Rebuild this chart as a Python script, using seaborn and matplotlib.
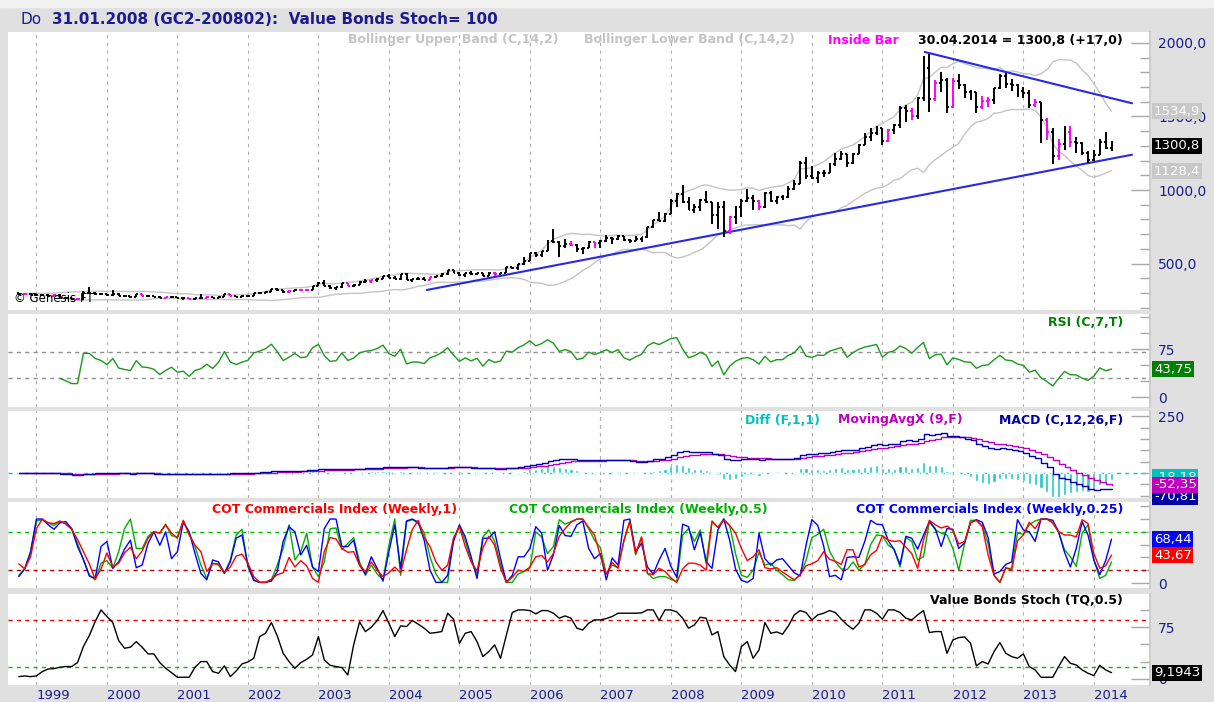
import numpy as np
import pandas as pd
import matplotlib
matplotlib.use('Agg')
import matplotlib.pyplot as plt
from matplotlib.patches import Rectangle
from matplotlib.ticker import MultipleLocator
import seaborn as sns

# monthly bars, Oct 1998 .. Apr 2014
dates = pd.date_range('1998-10-01', '2014-04-01', freq='MS')
t = np.asarray(dates.year + (dates.month - 1) / 12.0)
years = list(range(1999, 2015))

close = [293, 295, 289,
         288, 288, 280, 287, 268, 263, 256, 256, 300, 300, 293, 290,
         284, 295, 279, 276, 274, 290, 279, 278, 275, 265, 270, 274,
         266, 267, 258, 264, 266, 271, 266, 273, 293, 279, 275, 279,
         282, 297, 302, 309, 327, 318, 305, 313, 323, 317, 319, 348,
         368, 348, 335, 337, 364, 347, 355, 376, 384, 387, 397, 416,
         401, 396, 427, 388, 395, 395, 391, 409, 416, 429, 453, 438,
         423, 435, 428, 436, 417, 437, 430, 434, 473, 471, 496, 518,
         570, 557, 584, 655, 644, 616, 634, 627, 599, 606, 646, 638,
         652, 672, 664, 684, 661, 653, 668, 680, 746, 794, 788, 838,
         928, 975, 920, 867, 887, 931, 915, 833, 884, 718, 815, 884,
         928, 943, 923, 883, 980, 927, 955, 955, 1008, 1041, 1182, 1097,
         1083, 1119, 1116, 1180, 1213, 1245, 1181, 1248, 1309, 1358, 1387, 1421,
         1333, 1410, 1439, 1556, 1536, 1501, 1628, 1828, 1620, 1725, 1746, 1566,
         1740, 1711, 1669, 1664, 1562, 1604, 1615, 1692, 1774, 1720, 1713, 1676,
         1662, 1579, 1597, 1476, 1393, 1234, 1313, 1396, 1327, 1323, 1253, 1202,
         1240, 1326, 1283.8, 1300.8]
high = [302, 299, 297,
        292, 291, 291, 290, 290, 270, 264, 260, 311, 340, 303, 295,
        294, 318, 297, 287, 279, 295, 291, 283, 280, 277, 272, 276,
        275, 270, 268, 266, 293, 276, 273, 279, 294, 294, 280, 283,
        287, 302, 304, 310, 328, 331, 323, 317, 326, 325, 323, 350,
        373, 390, 355, 341, 370, 368, 360, 378, 394, 391, 400, 417,
        428, 417, 430, 432, 396, 405, 411, 410, 418, 433, 455, 458,
        440, 437, 447, 438, 438, 443, 440, 444, 476, 479, 498, 542,
        574, 575, 586, 660, 732, 652, 670, 656, 636, 610, 651, 648,
        660, 694, 678, 696, 690, 668, 686, 682, 750, 795, 851, 842,
        936, 980, 1033, 950, 905, 942, 990, 920, 920, 925, 825, 890,
        936, 1007, 963, 931, 983, 991, 961, 967, 1025, 1071, 1196, 1227,
        1163, 1128, 1137, 1181, 1250, 1266, 1248, 1252, 1310, 1388, 1424, 1432,
        1424, 1412, 1447, 1570, 1577, 1556, 1632, 1911, 1923, 1749, 1803, 1764,
        1764, 1791, 1720, 1680, 1668, 1642, 1630, 1693, 1790, 1798, 1755, 1724,
        1698, 1679, 1617, 1600, 1488, 1424, 1348, 1434, 1434, 1362, 1325, 1267,
        1272, 1346, 1392, 1331]
low = [287, 290, 285,
       283, 282, 278, 279, 267, 258, 252, 252, 254, 291, 289, 283,
       282, 282, 277, 272, 268, 273, 276, 272, 269, 263, 263, 267,
       262, 255, 257, 254, 263, 265, 262, 265, 270, 277, 271, 272,
       278, 281, 290, 299, 307, 314, 302, 302, 311, 313, 314, 318,
       344, 344, 329, 323, 335, 344, 342, 352, 368, 369, 377, 395,
       398, 392, 390, 386, 373, 386, 387, 388, 398, 410, 422, 432,
       416, 411, 424, 421, 414, 414, 418, 426, 433, 460, 457, 491,
       516, 541, 543, 582, 642, 542, 605, 616, 578, 562, 604, 608,
       606, 648, 636, 660, 656, 640, 650, 649, 675, 739, 786, 779,
       836, 882, 912, 862, 846, 859, 909, 772, 735, 681, 700, 768,
       813, 915, 866, 866, 880, 920, 905, 933, 945, 1002, 1040, 1077,
       1075, 1045, 1089, 1114, 1164, 1204, 1155, 1175, 1244, 1305, 1333, 1375,
       1309, 1328, 1382, 1420, 1463, 1478, 1482, 1606, 1532, 1603, 1668, 1523,
       1555, 1688, 1628, 1611, 1527, 1548, 1564, 1587, 1689, 1695, 1673, 1636,
       1626, 1555, 1564, 1321, 1338, 1180, 1207, 1271, 1292, 1251, 1241, 1182,
       1200, 1238, 1277, 1268]
first_open = 297

# hand drawn trend lines (decimal year, price)
lower_line_t = [2004.54, 2014.54]
lower_line_v = [320, 1240]
upper_line_t = [2011.60, 2014.54]
upper_line_v = [1939, 1590]

cot_red = [30, 22, 41, 85, 100, 94, 93, 97, 92, 84,
           68, 49, 30, 6, 22, 47, 25, 31, 47, 56,
           38, 50, 70, 80, 78, 91, 78, 70, 98, 75,
           59, 49, 18, 30, 30, 17, 25, 42, 45, 31,
           10, 1, 1, 6, 13, 16, 40, 25, 35, 27,
           7, 1, 49, 71, 69, 54, 48, 49, 28, 18,
           33, 20, 10, 16, 25, 16, 52, 84, 98, 71,
           57, 33, 20, 28, 70, 88, 57, 33, 19, 55,
           73, 59, 23, 1, 9, 20, 18, 25, 41, 43,
           33, 46, 73, 85, 95, 100, 100, 87, 75,
           42, 14, 32, 23, 67, 96, 46, 72, 15, 13,
           23, 18, 8, 1, 22, 31, 31, 28, 20, 96,
           87, 98, 90, 78, 54, 35, 41, 52, 24, 22,
           24, 17, 11, 5, 13, 27, 30, 35, 49, 37,
           34, 29, 52, 52, 25, 29, 44, 51, 74, 67,
           65, 66, 56, 46, 23, 67, 98, 91, 86, 89,
           82, 61, 65, 94, 98, 88, 44, 12, 1, 24,
           20, 66, 75, 95, 85, 100, 100, 94, 80, 75,
           75, 72, 99, 93, 46, 23, 27, 43.67]
cot_green = [12, 22, 49, 97, 99, 94, 90, 96, 93, 85,
             62, 36, 13, 5, 31, 35, 23, 49, 85, 100,
             54, 54, 73, 80, 78, 92, 74, 72, 97, 78,
             57, 28, 7, 31, 28, 15, 36, 75, 84, 25,
             5, 1, 1, 5, 28, 54, 91, 36, 49, 78,
             25, 10, 33, 85, 86, 52, 62, 71, 33, 12,
             28, 14, 5, 59, 100, 12, 96, 99, 93, 79,
             41, 14, 1, 1, 70, 89, 66, 34, 14, 72,
             83, 65, 29, 1, 1, 14, 18, 23, 80, 72,
             46, 57, 99, 92, 96, 100, 100, 85, 67,
             55, 14, 28, 24, 65, 97, 44, 71, 15, 7,
             10, 10, 6, 2, 75, 85, 65, 83, 31, 97,
             87, 100, 90, 46, 12, 9, 20, 48, 28, 31,
             20, 13, 5, 4, 13, 35, 71, 76, 84, 50,
             33, 22, 21, 33, 20, 29, 60, 75, 74, 59,
             53, 25, 71, 65, 36, 41, 96, 83, 78, 75,
             54, 20, 62, 98, 98, 90, 61, 12, 1, 23,
             23, 78, 76, 91, 97, 100, 100, 94, 79, 52,
             41, 26, 78, 91, 36, 7, 12, 33]
cot_blue = [10, 22, 48, 100, 100, 91, 84, 94, 96, 85,
            57, 37, 11, 7, 57, 65, 23, 33, 53, 67,
            24, 28, 62, 80, 59, 80, 38, 49, 95, 80,
            46, 15, 5, 36, 33, 15, 33, 70, 75, 28,
            4, 1, 1, 3, 18, 65, 88, 80, 44, 59,
            25, 18, 85, 100, 100, 57, 57, 67, 28, 14,
            41, 23, 3, 49, 91, 23, 97, 100, 95, 67,
            20, 1, 1, 12, 65, 91, 72, 41, 7, 70,
            70, 80, 38, 1, 12, 41, 41, 54, 88, 78,
            20, 44, 90, 74, 73, 91, 97, 54, 38,
            46, 5, 39, 28, 98, 100, 49, 62, 25, 14,
            36, 54, 26, 9, 92, 88, 52, 79, 33, 23,
            83, 100, 67, 22, 4, 1, 7, 78, 38, 28,
            36, 38, 27, 16, 11, 59, 99, 90, 58, 10,
            12, 5, 40, 41, 40, 65, 98, 92, 91, 66,
            52, 29, 73, 70, 53, 75, 96, 85, 57, 85,
            84, 54, 63, 94, 99, 95, 71, 14, 18, 29,
            33, 99, 83, 80, 65, 100, 100, 98, 80, 48,
            25, 54, 96, 75, 36, 13, 35, 68.44]
stoch = [3.4, 4.4, 3.4, 4.4, 10.7, 14.5, 15, 17, 18, 18,
         23.7, 47, 62.8, 83, 100, 90.4, 81.7, 55.6, 44.5, 46,
         54, 46, 36.3, 36.3, 23.7, 15.5, 9.2, 2.5, 2.5, 2.5,
         17, 25.2, 25.2, 10.7, 8.3, 19, 3.4, 11.6, 21.8, 24.7,
         30, 61.4, 66.2, 81.7, 62.3, 37.2, 25.2, 15.5, 23.7, 28.5,
         34.8, 61.4, 27.6, 19.8, 18, 16.5, 5.8, 49.3, 82.6, 68.6,
         74.9, 84.6, 99, 80.7, 61.4, 76.8, 75.9, 84.6, 79.3, 73.5,
         66.2, 67.2, 68.6, 95.2, 86.5, 51.7, 66.2, 68.6, 54.1, 32.4,
         39.6, 49.3, 30, 63.8, 96.2, 100, 100, 99, 94.2, 99,
         99, 95.2, 88, 91.3, 88, 73.5, 71, 80.7, 85.5,
         85.5, 87.5, 90.4, 95.2, 95.2, 95.2, 95.2, 95.7, 100, 100,
         84.6, 100, 100, 97.1, 88, 73.5, 78.3, 89.4, 88, 63.8,
         68.6, 32.4, 20.3, 10.7, 46.9, 54.1, 30, 42.1, 81.7, 66.2,
         68.1, 64.8, 76.8, 92.8, 99, 96.2, 85.5, 92.8, 95.2, 99,
         96.2, 86.5, 78.3, 72, 80.7, 100, 100, 95.2, 86.5, 100,
         100, 96.2, 88, 85.5, 92.8, 99, 67.2, 68.6, 68.6, 37.2,
         56.5, 59.9, 60.9, 51.7, 18.9, 25.2, 21.8, 39.6, 52.7, 37.2,
         32.4, 30, 36.3, 18, 13.1, 2.5, 2.5, 2.5, 18, 32.4,
         22.7, 20.3, 13.1, 8.3, 4.9, 19.8, 13.1, 9.19]

# ---- indicators from the closes
c = pd.Series(close, dtype=float)
h = np.array(high, dtype=float)
l = np.array(low, dtype=float)
o = c.shift(1).fillna(first_open).values
mid = c.rolling(14, min_periods=1).mean()
sd = c.rolling(14, min_periods=1).std(ddof=0)
bb_up = (mid + 2 * sd).values
bb_lo = (mid - 2 * sd).values

delta = c.diff()
gain = delta.clip(lower=0).ewm(alpha=1 / 7, adjust=False, min_periods=7).mean()
loss = (-delta.clip(upper=0)).ewm(alpha=1 / 7, adjust=False, min_periods=7).mean()
rsi = (100 - 100 / (1 + gain / loss)).values

ema12 = c.ewm(span=12, adjust=False).mean()
ema26 = c.ewm(span=26, adjust=False).mean()
macd = (ema12 - ema26).values
signal = pd.Series(macd).ewm(span=9, adjust=False).mean().values
diff = macd - signal

inside = np.r_[False, (h[1:] <= h[:-1]) & (l[1:] >= l[:-1])]

# ---- figure
sns.set_theme(style='white')
plt.rcParams['font.family'] = ['DejaVu Sans']
W, H = 1214, 702
NAVY = '#1c1c8c'
fig = plt.figure(figsize=(W / 100, H / 100), dpi=100, facecolor='#e0e0e0')
fig.patches.append(Rectangle((0, 1 - 7 / H), 1, 7 / H, transform=fig.transFigure,
                             color='#f2f2f2', zorder=0))


def panel(top, bot, sharex=None):
    ax = fig.add_axes([8 / W, 1 - bot / H, 1142 / W, (bot - top) / H], sharex=sharex)
    ax.set_facecolor('white')
    for s in ax.spines.values():
        s.set_visible(False)
    return ax


ax1 = panel(32, 310)
ax2 = panel(314, 407, ax1)
ax3 = panel(411, 498, ax1)
ax4 = panel(502, 588, ax1)
ax5 = panel(594, 685, ax1)
# own scale for the Diff histogram, same zero line
ax3b = ax3.twinx()
for s in ax3b.spines.values():
    s.set_visible(False)
ax3b.set_yticks([])
ax3b.patch.set_visible(True)
ax3b.set_facecolor('white')
axes = [ax1, ax2, ax3, ax4, ax5]


def style_y(ax, major, labels, minor_step, lim):
    ax.set_ylim(*lim)
    ax.yaxis.tick_right()
    ax.set_yticks(major)
    ax.set_yticklabels(labels)
    ax.yaxis.set_minor_locator(MultipleLocator(minor_step))
    ax.tick_params(axis='y', which='major', direction='in', length=14, width=1,
                   color='#a8a8a8', labelcolor=NAVY, labelsize=10, pad=6)
    ax.tick_params(axis='y', which='minor', direction='in', length=7, width=1,
                   color='#a8a8a8')
    ax.spines['right'].set_visible(True)
    ax.spines['right'].set_color('#c8c8c8')


style_y(ax1, [500, 1000, 1500, 2000], ['500,0', '1000,0', '1500,0', '2000,0'], 100, (183.7, 2074.8))
style_y(ax2, [0, 75], ['0', '75'], 25, (-15.6, 129.7))
style_y(ax3, [250], ['250'], 50, (-110.6, 274.3))
style_y(ax4, [0], ['0'], 20, (-7.8, 126.6))
style_y(ax5, [0, 75], ['0', '75'], 25, (-8.7, 123))
ax3b.set_ylim(-110.6 / 1.7, 274.3 / 1.7)

ax1.set_xlim(1998.597, 2014.796)
for ax in axes:
    for y in years:
        ax.axvline(y, color='#b0b0b0', lw=0.8, ls=(0, (3, 4)), zorder=0)
    ax.tick_params(axis='x', length=0, labelbottom=False)
ax5.set_xticks(years)
ax5.set_xticklabels([str(y) for y in years], ha='left')
ax5.tick_params(axis='x', labelbottom=True, labelcolor=NAVY, labelsize=9.5, pad=3)

# ---- price panel
sns.lineplot(x=t, y=bb_up, ax=ax1, color='#c4c4c4', lw=1, legend=False)
sns.lineplot(x=t, y=bb_lo, ax=ax1, color='#c4c4c4', lw=1, legend=False)
cols = np.where(inside, '#ff00ff', 'black')
w = 0.028
ax1.vlines(t, l, h, colors=cols, lw=1.4, zorder=3)
ax1.hlines(o, t - w, t, colors=cols, lw=1.4, zorder=3)
ax1.hlines(close, t, t + w, colors=cols, lw=1.4, zorder=3)
sns.lineplot(x=lower_line_t, y=lower_line_v, ax=ax1, color='#2828e6', lw=1.5, legend=False)
sns.lineplot(x=upper_line_t, y=upper_line_v, ax=ax1, color='#2828e6', lw=1.5, legend=False)

# ---- RSI
ax2.axhline(70, color='#909090', lw=1, ls=(0, (3, 3)))
ax2.axhline(30, color='#909090', lw=1, ls=(0, (3, 3)))
sns.lineplot(x=t, y=rsi, ax=ax2, color='#1a9a1a', lw=1, legend=False)

# ---- MACD
ax3b.axhline(0, color='#00c8c8', lw=1, ls=(0, (3, 3)))
ax3b.bar(t, diff, width=0.045, color='#20c8c8', zorder=2)
for y in years:
    ax3b.axvline(y, color='#b0b0b0', lw=0.8, ls=(0, (3, 4)), zorder=0)
sns.lineplot(x=t, y=signal, ax=ax3, color='#c000c0', lw=1, legend=False, drawstyle='steps-post')
sns.lineplot(x=t, y=macd, ax=ax3, color='#0000b0', lw=1, legend=False, drawstyle='steps-post')
ax3.set_zorder(ax3b.get_zorder() + 1)
ax3.patch.set_visible(False)

# ---- COT
ax4.axhline(80, color='#00c000', lw=1, ls=(0, (3, 3)))
ax4.axhline(20, color='#c00000', lw=1, ls=(0, (3, 3)))
sns.lineplot(x=t, y=cot_green, ax=ax4, color='#00b000', lw=1, legend=False)
sns.lineplot(x=t, y=cot_blue, ax=ax4, color='#0000ff', lw=1, legend=False)
sns.lineplot(x=t, y=cot_red, ax=ax4, color='#ff0000', lw=1, legend=False)

# ---- Value Bonds Stoch
ax5.axhline(85, color='#e00000', lw=1, ls=(0, (3, 3)))
ax5.axhline(17, color='#00c000', lw=1, ls=(0, (3, 3)))
sns.lineplot(x=t, y=stoch, ax=ax5, color='black', lw=1, legend=False)

for ax in axes + [ax3b]:
    ax.set_xlabel('')
    ax.set_ylabel('')


# ---- value boxes on the right scale
def vbox(ax, yval, text, bg):
    ax.text(1 + 4 / 1142, yval, text, transform=ax.get_yaxis_transform(), ha='left',
            va='center', fontsize=9.5, color='white', clip_on=False, zorder=10,
            bbox=dict(boxstyle='square,pad=0.12', fc=bg, ec='none'))


vbox(ax1, 1534.9, '1534,9', '#c8c8c8')
vbox(ax1, 1128.4, '1128,4', '#c8c8c8')
vbox(ax1, 1300.8, '1300,8', 'black')
vbox(ax2, 43.75, '43,75', '#008000')
vbox(ax3, -105, '-70,81', '#0000a0')
vbox(ax3, -18.2, '-18,18', '#00c0c0')
vbox(ax3, -52.35, '-52,35', '#c000c0')
vbox(ax4, 68.44, '68,44', '#0000ff')
vbox(ax4, 43.67, '43,67', '#ff0000')
vbox(ax5, 9.1943, '9,1943', 'black')


# ---- texts
def ftext(x, y, s, **kw):
    fig.text(x / W, 1 - y / H, s, va='center', **kw)


LB = dict(fontsize=9, fontweight='bold')
ftext(21, 19, 'Do', color=NAVY, fontsize=11)
ftext(52, 19, '31.01.2008 (GC2-200802):  Value Bonds Stoch= 100', color=NAVY,
      fontsize=11, fontweight='bold')
ftext(348, 40, 'Bollinger Upper Band (C,14,2)', color='#c4c4c4', **LB)
ftext(584, 40, 'Bollinger Lower Band (C,14,2)', color='#c4c4c4', **LB)
ftext(828, 40, 'Inside Bar', color='#ff00ff', **LB)
ftext(1123, 40, '30.04.2014 = 1300,8 (+17,0)', color='black', ha='right', **LB)
ftext(14, 298, '© Genesis FT', color='black', fontsize=8.5)
ftext(1123, 322, 'RSI (C,7,T)', color='#008000', ha='right', **LB)
ftext(745, 420, 'Diff (F,1,1)', color='#00c0c0', **LB)
ftext(838, 420, 'MovingAvgX (9,F)', color='#c000c0', **LB)
ftext(1123, 420, 'MACD (C,12,26,F)', color='#0000a0', ha='right', **LB)
ftext(212, 510, 'COT Commercials Index (Weekly,1)', color='#ff0000', **LB)
ftext(509, 510, 'COT Commercials Index (Weekly,0.5)', color='#00b000', **LB)
ftext(1123, 510, 'COT Commercials Index (Weekly,0.25)', color='#0000ff', ha='right', **LB)
ftext(1123, 601, 'Value Bonds Stoch (TQ,0.5)', color='black', ha='right', **LB)

fig.savefig('out.png', dpi=100, facecolor=fig.get_facecolor())
plt.close(fig)
